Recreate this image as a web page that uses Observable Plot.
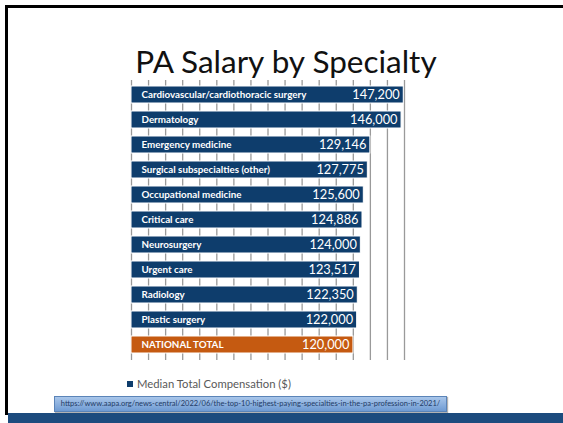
<!DOCTYPE html>
<html>
<head>
<meta charset="utf-8">
<script src="https://cdn.jsdelivr.net/npm/d3@7"></script>
<script src="https://cdn.jsdelivr.net/npm/@observablehq/plot@0.6"></script>
<style>
  html, body { margin: 0; padding: 0; background: #fff; overflow: hidden; }
  #page { position: relative; width: 563px; height: 423px; background: #fff; }
  #chart { position: absolute; left: 0; top: 0; }
  .abs { position: absolute; }
  #topline { left: 5px; top: 5px; width: 558px; height: 3px; background: #000; }
  #leftline { left: 5px; top: 5px; width: 3px; height: 410px; background: #000; }
  #footer { left: 8px; top: 413px; width: 555px; height: 10px; background: #1c4b7e; }
  #title { left: 0; width: 572px; top: 42px; text-align: center; font-family: Lato, sans-serif; font-size: 31.5px; color: #111; white-space: nowrap; }
  #legend { left: 127px; top: 377px; font-family: Lato, sans-serif; font-size: 11.3px; color: #595959; white-space: nowrap; }
  #legend span.sw { display: inline-block; width: 6px; height: 6px; background: #0e3d6c; margin-right: 4px; vertical-align: 1px; }
  #link { left: 54px; top: 396px; width: 393px; height: 16px; box-sizing: border-box; border: 1px solid #5b84b8;
          background: linear-gradient(#a9c6ea, #6f9bd3); font-family: Lato, sans-serif; font-size: 7.5px; color: #1f3b66;
          line-height: 14px; text-align: center; white-space: nowrap; box-shadow: 1px 1px 1px rgba(0,0,0,0.3); }
</style>
</head>
<body>
<div id="page">
  <div id="chart"></div>
  <div class="abs" id="topline"></div>
  <div class="abs" id="leftline"></div>
  <div class="abs" id="title"></div>
  <div class="abs" id="legend"></div>
  <div class="abs" id="link"></div>
  <div class="abs" id="footer"></div>
</div>
<script>
const titleText = "PA Salary by Specialty";
const specialties = [
  "Cardiovascular/cardiothoracic surgery",
  "Dermatology",
  "Emergency medicine",
  "Surgical subspecialties (other)",
  "Occupational medicine",
  "Critical care",
  "Neurosurgery",
  "Urgent care",
  "Radiology",
  "Plastic surgery",
  "NATIONAL TOTAL"
];
const salaries = [147200, 146000, 129146, 127775, 125600, 124886, 124000, 123517, 122350, 122000, 120000];
const groups = ["specialty","specialty","specialty","specialty","specialty","specialty","specialty","specialty","specialty","specialty","national"];
const gridTicks = [0, 9225, 18450, 27675, 36900, 46125, 55350, 64575, 73800, 83025, 92250, 101475, 110700, 119925, 129150, 138375, 147600];
const legendLabel = "Median Total Compensation ($)";
const sourceUrl = "https://www.aapa.org/news-central/2022/06/the-top-10-highest-paying-specialties-in-the-pa-profession-in-2021/";

const data = specialties.map((name, i) => ({name, value: salaries[i], group: groups[i]}));
const fmt = d3.format(",");

const chart = Plot.plot({
  width: 563,
  height: 423,
  marginLeft: 131,
  marginRight: 159,
  marginTop: 80,
  marginBottom: 63,
  x: {domain: [0, 147600], axis: null},
  y: {domain: specialties, axis: null, paddingInner: 0.316, paddingOuter: 0.127},
  color: {domain: ["specialty", "national"], range: ["#0e3d6c", "#c55a11"]},
  marks: [
    Plot.ruleX(gridTicks, {stroke: "#9a9a9a", strokeWidth: 1.3}),
    Plot.barX(data, {x: "value", y: "name", fill: "group", stroke: "#ffffff", strokeWidth: 1}),
    Plot.text(data, {x: 0, y: "name", text: "name", dx: 10, textAnchor: "start", fill: "white",
      fontFamily: "Lato, sans-serif", fontWeight: "bold", fontSize: 9.8}),
    Plot.text(data, {x: "value", y: "name", text: d => fmt(d.value), dx: -4, textAnchor: "end", fill: "white",
      fontFamily: "Lato, sans-serif", fontSize: 12.8})
  ]
});
document.getElementById("chart").appendChild(chart);
document.getElementById("title").textContent = titleText;
document.getElementById("legend").innerHTML = '<span class="sw"></span>' + legendLabel;
document.getElementById("link").textContent = sourceUrl;
</script>
</body>
</html>
